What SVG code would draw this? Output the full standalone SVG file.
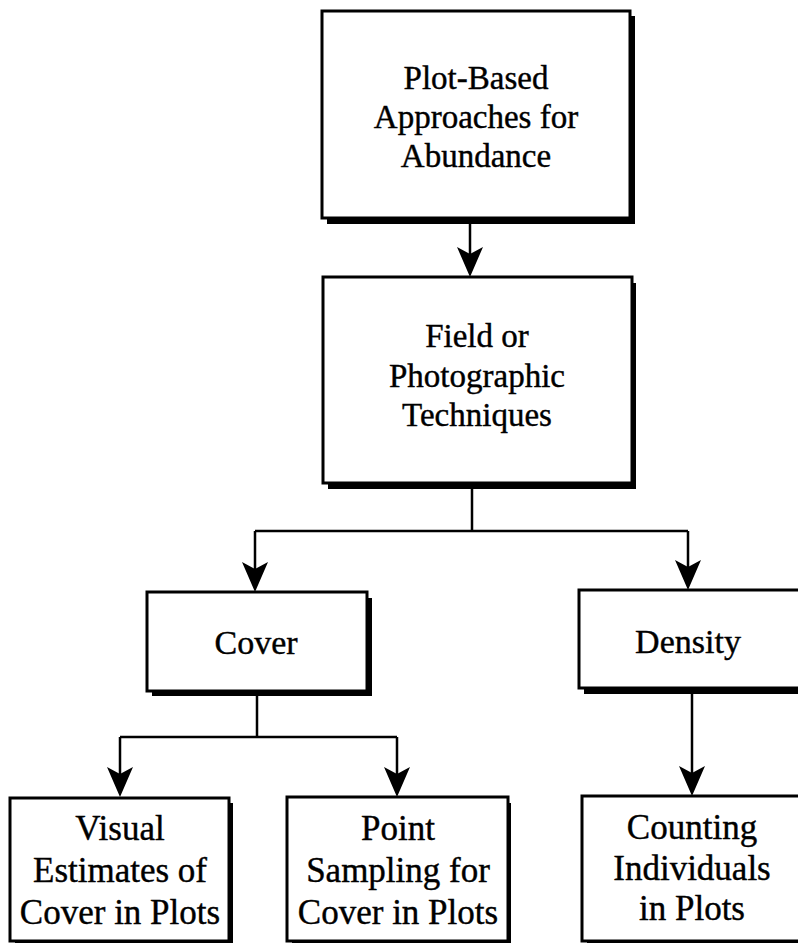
<svg xmlns="http://www.w3.org/2000/svg" width="798" height="943" viewBox="0 0 798 943">
  <style>
    .box { fill: #ffffff; stroke: #000000; stroke-width: 3; }
    .shadow { fill: #000000; }
    .label { font-family: "Liberation Serif", "Times New Roman", serif; fill: #000000; stroke: #000000; stroke-width: 0.4; text-anchor: middle; }
    .t33 { font-size: 33px; }
    .t34 { font-size: 34px; }
    .t35 { font-size: 35px; }
    .link { fill: none; stroke: #000000; stroke-width: 2.5; }
  </style>
  <defs>
    <!-- barbed arrowhead, tip at the origin, pointing down -->
    <path id="head" d="M0,0 L-13,-30 L0,-23 L13,-30 Z" fill="#000000"/>
  </defs>

  <rect width="798" height="943" fill="#ffffff"/>

  <g id="connectors">
    <path class="link" d="M470,223 V262"/>
    <path class="link" d="M472,488 V531 M255,531 H688 M255,531 V575 M688,531 V575"/>
    <path class="link" d="M257,696 V737 M120,737 H397 M120,737 V780 M397,737 V780"/>
    <path class="link" d="M692,694 V780"/>
    <use href="#head" x="470" y="277"/>
    <use href="#head" x="255" y="592"/>
    <use href="#head" x="688" y="590"/>
    <use href="#head" x="120" y="797"/>
    <use href="#head" x="397" y="797"/>
    <use href="#head" x="692" y="796"/>
  </g>

  <g id="plot-based">
    <rect class="shadow" x="327" y="16" width="308" height="208"/>
    <rect class="box" x="322" y="11" width="308" height="207"/>
    <text class="label t33" x="476" y="89">Plot-Based</text>
    <text class="label t33" x="476" y="128">Approaches for</text>
    <text class="label t33" x="476" y="167">Abundance</text>
  </g>

  <g id="field-photo">
    <rect class="shadow" x="328" y="283" width="308" height="206"/>
    <rect class="box" x="323" y="277" width="309" height="206"/>
    <text class="label t33" x="477" y="347">Field or</text>
    <text class="label t33" x="477" y="387">Photographic</text>
    <text class="label t33" x="477" y="426">Techniques</text>
  </g>

  <g id="cover">
    <rect class="shadow" x="152" y="598" width="220" height="98"/>
    <rect class="box" x="147" y="592" width="220" height="99"/>
    <text class="label t34" x="256" y="654">Cover</text>
  </g>

  <g id="density">
    <rect class="shadow" x="584" y="596" width="230" height="98"/>
    <rect class="box" x="579" y="590" width="230" height="98"/>
    <text class="label t34" x="688" y="653">Density</text>
  </g>

  <g id="visual-estimates">
    <rect class="shadow" x="15" y="803" width="218" height="150"/>
    <rect class="box" x="10" y="798" width="219" height="143"/>
    <text class="label t35" x="120" y="840">Visual</text>
    <text class="label t35" x="120" y="882">Estimates of</text>
    <text class="label t35" x="120" y="924">Cover in Plots</text>
  </g>

  <g id="point-sampling">
    <rect class="shadow" x="292" y="803" width="219" height="150"/>
    <rect class="box" x="287" y="797" width="221" height="144"/>
    <text class="label t35" x="398" y="840">Point</text>
    <text class="label t35" x="398" y="882">Sampling for</text>
    <text class="label t35" x="398" y="924">Cover in Plots</text>
  </g>

  <g id="counting">
    <rect class="shadow" x="587" y="802" width="230" height="150"/>
    <rect class="box" x="582" y="796" width="230" height="145"/>
    <text class="label t35" x="692" y="839">Counting</text>
    <text class="label t35" x="692" y="880">Individuals</text>
    <text class="label t35" x="692" y="920">in Plots</text>
  </g>
</svg>
